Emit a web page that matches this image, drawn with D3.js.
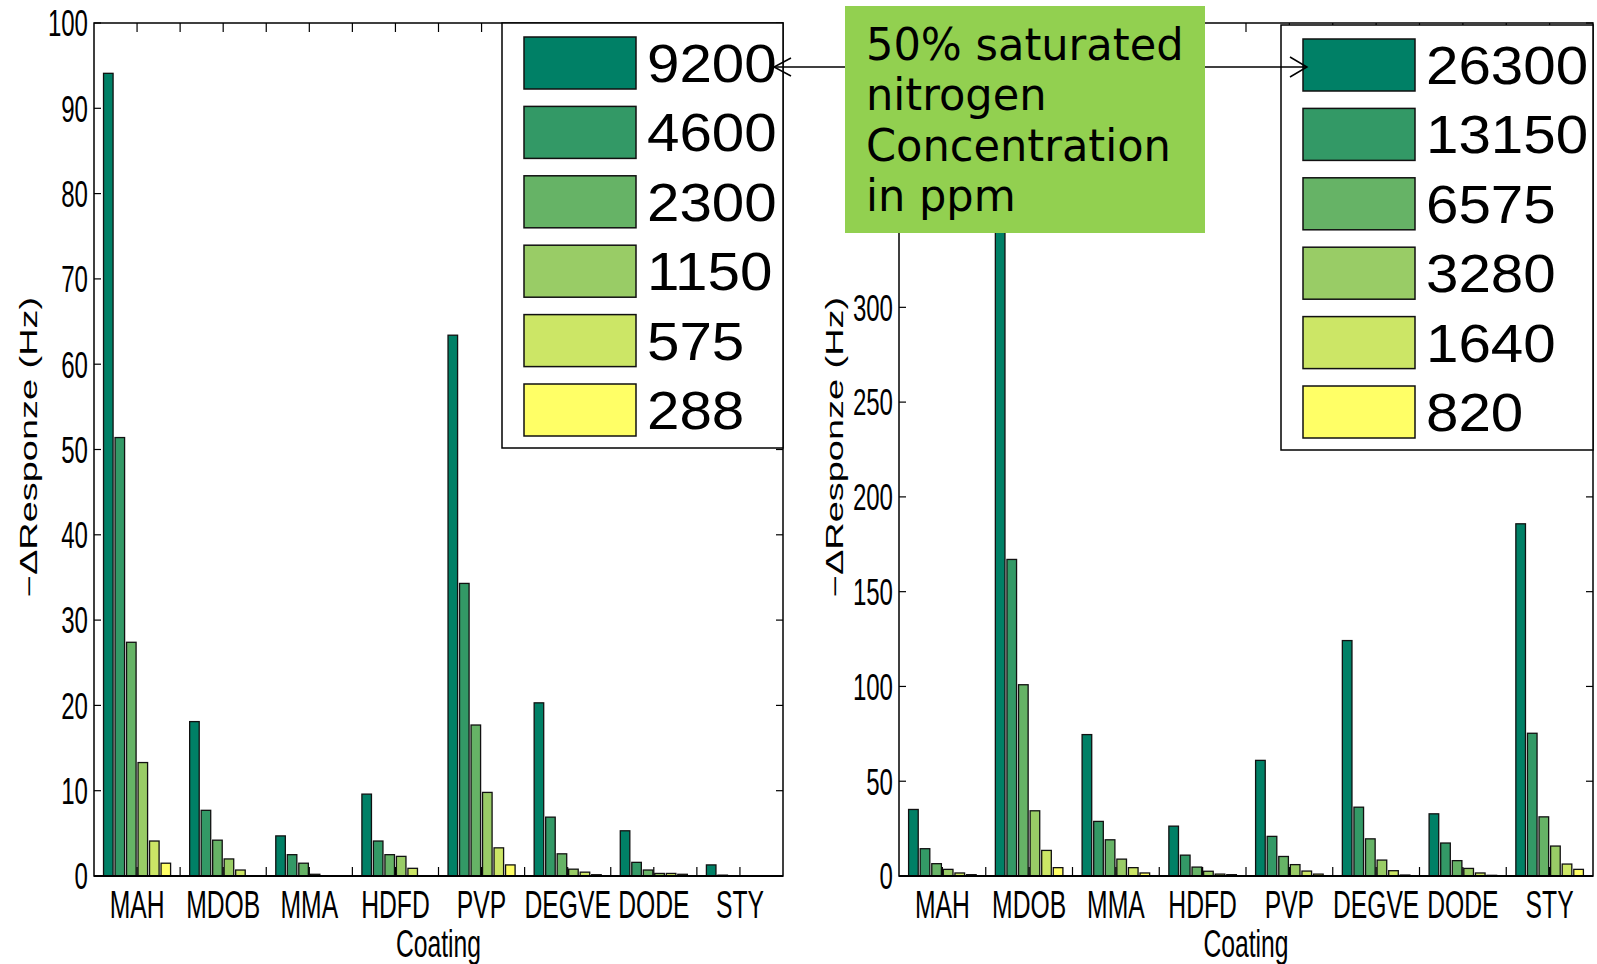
<!DOCTYPE html>
<html>
<head>
<meta charset="utf-8">
<script src="https://cdn.jsdelivr.net/npm/d3@7"></script>
<style>
  body { margin: 0; background: #fff; }
  svg { display: block; }
  text { font-family: "Liberation Sans", Arial, sans-serif; fill: #000; }
</style>
</head>
<body>
<div id="chart"></div>
<script>
// categories on the x axis (same for both panels)
const categories = ['MAH', 'MDOB', 'MMA', 'HDFD', 'PVP', 'DEGVE', 'DODE', 'STY'];

// legend labels: concentrations in ppm
const leftConcentrations = ['9200', '4600', '2300', '1150', '575', '288'];
const rightConcentrations = ['26300', '13150', '6575', '3280', '1640', '820'];

// y ticks; the right panel's top labels sit under the note box
const leftYTicks = [0, 10, 20, 30, 40, 50, 60, 70, 80, 90, 100];
const rightYTicks = [0, 50, 100, 150, 200, 250, 300, 350, 400, 450];
const rightYLabels = [0, 50, 100, 150, 200, 250, 300];

// left panel, one array per concentration (values per coating)
const left9200 = [94.1, 18.1, 4.7, 9.6, 63.4, 20.3, 5.3, 1.3];
const left4600 = [51.4, 7.7, 2.5, 4.1, 34.3, 6.9, 1.6, 0.1];
const left2300 = [27.4, 4.2, 1.5, 2.5, 17.7, 2.6, 0.7, 0];
const left1150 = [13.3, 2.0, 0.2, 2.3, 9.8, 0.8, 0.3, 0];
const left575 = [4.1, 0.7, 0, 0.9, 3.3, 0.45, 0.3, 0];
const left288 = [1.5, 0, 0, 0, 1.3, 0.15, 0.2, 0];

// right panel
const right26300 = [35.1, 375, 74.6, 26.3, 61.0, 124.2, 32.8, 185.8];
const right13150 = [14.4, 167, 28.8, 11.0, 20.9, 36.3, 17.4, 75.3];
const right6575 = [6.5, 100.9, 19.1, 4.7, 10.3, 19.6, 8.1, 31.2];
const right3280 = [3.5, 34.4, 8.9, 2.5, 6.0, 8.4, 4.0, 15.8];
const right1640 = [1.6, 13.5, 4.4, 1.0, 2.6, 2.8, 1.6, 6.3];
const right820 = [0.7, 4.4, 1.6, 0.7, 1.0, 0.5, 0.35, 3.5];

const noteLines = ['50% saturated', 'nitrogen', 'Concentration', 'in ppm'];

// matlab "summer" colormap, 6 steps
const colors = d3.range(6).map(i => {
    const t = i / 5;
    return d3.rgb(Math.round(255 * t), Math.round(255 * (0.5 + t / 2)), 102).toString();
});

const W = 1597, H = 964;
const svg = d3.select('#chart').append('svg')
    .attr('width', W)
    .attr('height', H);

const SX = 0.65; // axis text looks horizontally squeezed

function drawPanel(opt) {
    const g = svg.append('g');
    const x = d3.scaleLinear().domain([0.5, categories.length + 0.5]).range([opt.left, opt.right]);
    const y = d3.scaleLinear().domain([0, opt.yMax]).range([opt.bottom, opt.top]);
    const inner = d3.scaleBand().domain(d3.range(opt.series.length))
        .range([-0.4, 0.4]).paddingInner(0.17).paddingOuter(0.08);

    // bars
    opt.series.forEach((vals, s) => {
        g.append('g').selectAll('rect').data(vals)
            .join('rect')
            .attr('x', (d, i) => x(i + 1 + inner(s)))
            .attr('width', x(inner.bandwidth()) - x(0))
            .attr('y', d => y(d))
            .attr('height', d => y(0) - y(d))
            .attr('fill', colors[s])
            .attr('stroke', '#111')
            .attr('stroke-width', 1.3);
    });

    // inward ticks on all sides
    const xTicks = d3.range(1, categories.length + 0.01, 0.5);
    const tk = g.append('g').attr('stroke', '#000').attr('stroke-width', 1.2);
    tk.selectAll('.xb').data(xTicks).join('line')
        .attr('x1', d => x(d)).attr('x2', d => x(d))
        .attr('y1', opt.bottom).attr('y2', opt.bottom - 9);
    tk.selectAll('.xt').data(xTicks).join('line')
        .attr('x1', d => x(d)).attr('x2', d => x(d))
        .attr('y1', opt.top).attr('y2', opt.top + 9);
    tk.selectAll('.yl').data(opt.yTicks).join('line')
        .attr('x1', opt.left).attr('x2', opt.left + 7)
        .attr('y1', d => y(d)).attr('y2', d => y(d));
    tk.selectAll('.yr').data(opt.yTicks).join('line')
        .attr('x1', opt.right).attr('x2', opt.right - 7)
        .attr('y1', d => y(d)).attr('y2', d => y(d));

    // box
    g.append('rect')
        .attr('x', opt.left).attr('y', opt.top)
        .attr('width', opt.right - opt.left).attr('height', opt.bottom - opt.top)
        .attr('fill', 'none').attr('stroke', '#000').attr('stroke-width', 1.5);
    g.append('line')
        .attr('x1', opt.left).attr('x2', opt.right)
        .attr('y1', y(0)).attr('y2', y(0))
        .attr('stroke', '#000').attr('stroke-width', 2);

    // y tick labels
    g.selectAll('.ylab').data(opt.yLabels).join('text')
        .attr('transform', d => `translate(${opt.left - 6},${y(d)}) scale(${SX},1)`)
        .attr('text-anchor', 'end')
        .attr('dy', '0.36em')
        .style('font-size', '37px')
        .text(d => d);

    // category labels
    g.selectAll('.xlab').data(categories).join('text')
        .attr('transform', (d, i) => `translate(${x(i + 1)},918) scale(${SX},1)`)
        .attr('text-anchor', 'middle')
        .style('font-size', '38px')
        .text(d => d);

    g.append('text')
        .attr('transform', `translate(${(opt.left + opt.right) / 2},957) scale(${SX},1)`)
        .attr('text-anchor', 'middle')
        .style('font-size', '38px')
        .text('Coating');

    // y axis title, stretched along its length
    g.append('text')
        .attr('transform', `translate(${opt.titleX},447) rotate(-90) scale(1.65,1)`)
        .attr('text-anchor', 'middle')
        .attr('dy', '0.36em')
        .style('font-size', '23px')
        .text('\u2212\u0394Responze (Hz)');

    // legend
    const lg = g.append('g');
    lg.append('rect')
        .attr('x', opt.legend.x).attr('y', opt.legend.y)
        .attr('width', opt.legend.w).attr('height', opt.legend.h)
        .attr('fill', '#fff').attr('stroke', '#000').attr('stroke-width', 1.5);
    const rows = lg.selectAll('.row').data(opt.labels).join('g')
        .attr('transform', (d, i) => `translate(0,${opt.legend.y + 14 + i * 69.4})`);
    rows.append('rect')
        .attr('x', opt.legend.swatchX).attr('y', 0)
        .attr('width', 112).attr('height', 52)
        .attr('fill', (d, i) => colors[i])
        .attr('stroke', '#111').attr('stroke-width', 1.5);
    rows.append('text')
        .attr('transform', `translate(${opt.legend.swatchX + 123},45) scale(1.08,1)`)
        .style('font-size', '54px')
        .text(d => d);

    return { x, y };
}

drawPanel({
    left: 94, right: 783, top: 23, bottom: 876,
    yMax: 100, yTicks: leftYTicks, yLabels: leftYTicks,
    series: [left9200, left4600, left2300, left1150, left575, left288],
    labels: leftConcentrations,
    titleX: 29,
    legend: { x: 502, y: 23, w: 281, h: 425, swatchX: 524 }
});

drawPanel({
    left: 899, right: 1593, top: 23, bottom: 876,
    yMax: 450, yTicks: rightYTicks, yLabels: rightYLabels,
    series: [right26300, right13150, right6575, right3280, right1640, right820],
    labels: rightConcentrations,
    titleX: 835,
    legend: { x: 1281, y: 25, w: 312, h: 425, swatchX: 1303 }
});

// note box with arrows
const note = svg.append('g');
const arrowY = 67;
note.append('line').attr('x1', 845).attr('x2', 774).attr('y1', arrowY).attr('y2', arrowY)
    .attr('stroke', '#000').attr('stroke-width', 1.5);
note.append('path').attr('d', `M791,${arrowY - 9} L774,${arrowY} L791,${arrowY + 9}`)
    .attr('fill', 'none').attr('stroke', '#000').attr('stroke-width', 1.5);
note.append('line').attr('x1', 1205).attr('x2', 1307).attr('y1', arrowY).attr('y2', arrowY)
    .attr('stroke', '#000').attr('stroke-width', 1.5);
note.append('path').attr('d', `M1290,${arrowY - 10} L1307,${arrowY} L1290,${arrowY + 10}`)
    .attr('fill', 'none').attr('stroke', '#000').attr('stroke-width', 1.5);

note.append('rect')
    .attr('x', 845).attr('y', 6).attr('width', 360).attr('height', 227)
    .attr('fill', '#92d050');
note.selectAll('.nl').data(noteLines).join('text')
    .attr('transform', (d, i) => `translate(866,${60 + i * 50.3}) scale(0.98,1)`)
    .style('font-family', '"DejaVu Sans", Verdana, sans-serif')
    .style('font-size', '44px')
    .text(d => d);
</script>
</body>
</html>
